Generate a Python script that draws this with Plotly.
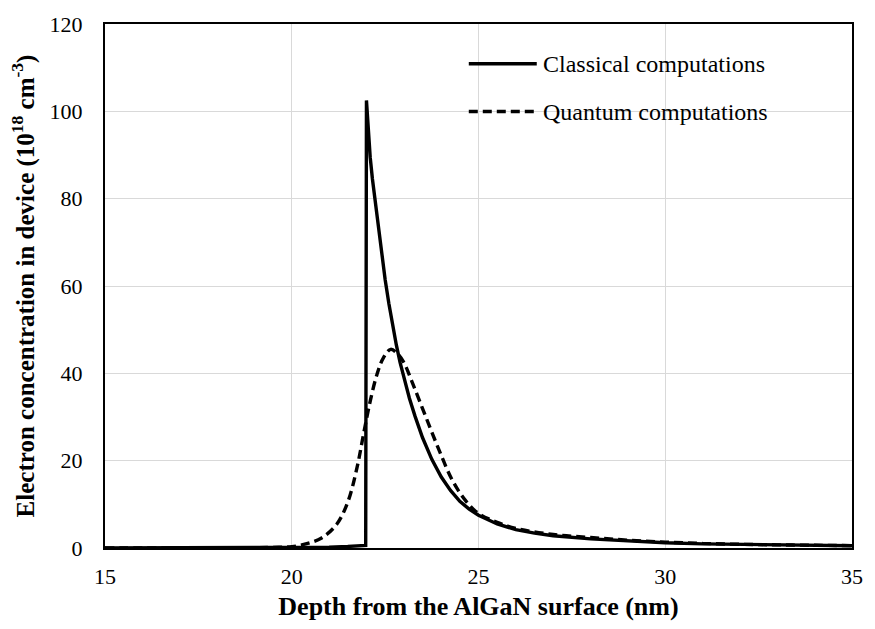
import plotly.graph_objects as go

# Classical computation (depth nm, concentration 1e18 cm^-3)
classical_x = [15, 17, 19, 20, 21, 21.5, 21.98, 22.0, 22.05, 22.1, 22.16, 22.23, 22.3, 22.4, 22.5,
               22.6, 22.7, 22.8, 22.9, 23.0, 23.15, 23.3, 23.5, 23.75, 24.0, 24.25, 24.5, 24.75,
               25.0, 25.5, 26.0, 26.5, 27.0, 28.0, 29.0, 30.0, 31.0, 32.0, 33.0, 34.0, 35.0]
classical_y = [0.0, 0.02, 0.05, 0.1, 0.2, 0.35, 0.6, 102.5, 95.5, 89.5, 84.5, 79.5, 74.5, 67.5, 61.5,
               56.0, 51.0, 46.5, 42.5, 39.0, 34.3, 30.2, 25.3, 20.3, 16.3, 13.2, 10.7, 8.9,
               7.5, 5.5, 4.2, 3.4, 2.8, 2.1, 1.6, 1.2, 0.95, 0.8, 0.7, 0.6, 0.5]

# Quantum computation
quantum_x = [15, 17, 19, 19.5, 20.0, 20.4, 20.8, 21.2, 21.5, 21.75, 21.92, 22.1, 22.28, 22.45, 22.65,
             22.85, 23.0, 23.25, 23.6, 23.95, 24.3, 24.65, 25.0, 25.5, 26.0, 27.0, 28.0, 29.0, 30.0,
             31.0, 32.0, 33.0, 34.0, 35.0]
quantum_y = [0.0, 0.0, 0.05, 0.15, 0.3, 1.0, 2.3, 5.4, 10.5, 18.5, 26, 33.6, 39.7, 43.5, 45.5,
             44.3, 42.5, 37.4, 29.8, 22.3, 15.5, 10.9, 7.9, 5.9, 4.5, 3.1, 2.4, 1.8, 1.35,
             1.05, 0.85, 0.72, 0.62, 0.55]

x_ticks = [15, 20, 25, 30, 35]
y_ticks = [0, 20, 40, 60, 80, 100, 120]

FONT = "Liberation Serif"

fig = go.Figure()
fig.add_trace(go.Scatter(x=classical_x, y=classical_y, mode="lines",
                         name="Classical computations",
                         line=dict(color="black", width=3.4), showlegend=False))
fig.add_trace(go.Scatter(x=quantum_x, y=quantum_y, mode="lines",
                         name="Quantum computations",
                         line=dict(color="black", width=3.4, dash="9px,5px"), showlegend=False,
                         line_shape="spline"))

# Manual legend (inside top-right)
legend_items = [("Classical computations", "solid", 0.924), ("Quantum computations", "9px,5px", 0.833)]
for label, dash, yp in legend_items:
    fig.add_shape(type="line", xref="paper", yref="paper", x0=0.487, x1=0.578, y0=yp, y1=yp,
                  line=dict(color="black", width=3.4, dash=dash))
    fig.add_annotation(xref="paper", yref="paper", x=0.583, y=yp, text=label, showarrow=False,
                       xanchor="left", yanchor="middle",
                       font=dict(family=FONT, size=24, color="black"))

fig.update_layout(
    width=875, height=629,
    margin=dict(l=105, r=14, t=20, b=81),
    paper_bgcolor="white", plot_bgcolor="white",
    font=dict(family=FONT, size=22, color="black"),
    showlegend=False,
)
fig.update_xaxes(range=[15, 35], tickvals=x_ticks, ticktext=[str(v) for v in x_ticks],
                 showgrid=True, gridcolor="#d9d9d9", gridwidth=1.3,
                 showline=True, linecolor="black", linewidth=2, mirror=True,
                 zeroline=False, ticks="", ticklabelstandoff=8,
                 tickfont=dict(family=FONT, size=22),
                 title=dict(text="<b>Depth from the AlGaN surface (nm)</b>",
                            font=dict(family=FONT, size=26), standoff=8))
fig.update_yaxes(range=[0, 120], tickvals=y_ticks, ticktext=[str(v) for v in y_ticks],
                 showgrid=True, gridcolor="#d9d9d9", gridwidth=1.3,
                 showline=True, linecolor="black", linewidth=2, mirror=True,
                 zeroline=False, ticks="", ticklabelstandoff=16,
                 tickfont=dict(family=FONT, size=22),
                 title=dict(text="<b>Electron concentration in device (10<sup>18</sup> cm<sup>-3</sup>)</b>",
                            font=dict(family=FONT, size=25), standoff=8))

fig.write_html("out.html")
